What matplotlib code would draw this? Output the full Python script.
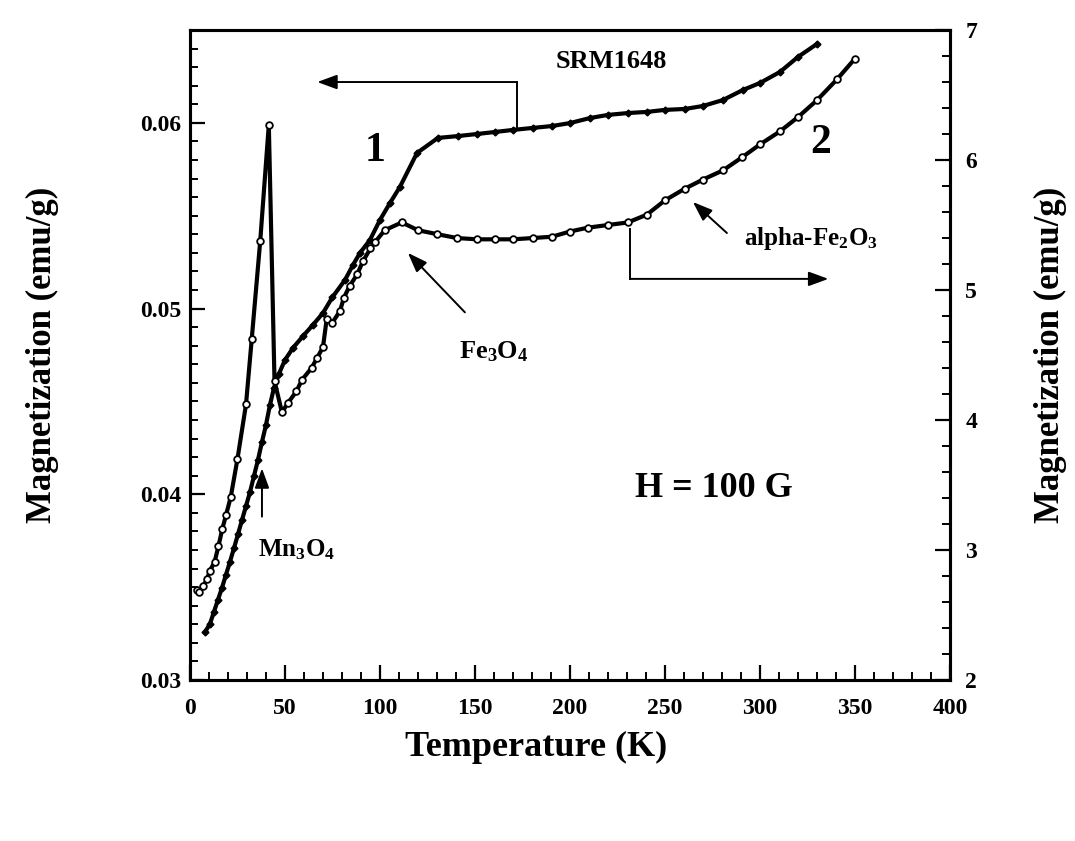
import matplotlib
matplotlib.use("Agg")
import matplotlib.pyplot as plt
from matplotlib.ticker import MultipleLocator

plt.rcParams['font.family'] = ['Liberation Serif', 'DejaVu Serif']
plt.rcParams['font.weight'] = 'bold'
plt.rcParams['mathtext.fontset'] = 'custom'
plt.rcParams['mathtext.rm'] = 'Liberation Serif:bold'
plt.rcParams['mathtext.it'] = 'Liberation Serif:bold'
plt.rcParams['mathtext.bf'] = 'Liberation Serif:bold'

# curve 1 (SRM1648 side, left axis), filled diamonds
temp1 = [7.9, 10.5, 12.6, 14.7, 16.8, 18.9, 21.0, 23.2, 25.3, 27.4, 29.5, 31.6,
         33.7, 35.8, 37.9, 40.0, 42.1, 44.2, 46.8, 50.0, 54.2, 59.5, 64.7, 70.0,
         75.0, 81.6, 85.8, 89.5, 94.7, 100.0, 105.3, 110.5, 119.5, 130.5, 141.0,
         151.0, 160.5, 170.0, 180.5, 190.5, 200.0, 210.5, 220.0, 230.5, 240.5,
         250.0, 260.5, 270.0, 280.5, 291.0, 300.0, 310.5, 320.0, 330.0]
mag1 = [0.03258, 0.03302, 0.03366, 0.03431, 0.03495, 0.03565, 0.03635, 0.03711,
        0.03786, 0.03862, 0.03937, 0.04012, 0.04099, 0.04185, 0.04282, 0.04373,
        0.04481, 0.04572, 0.04648, 0.04723, 0.04788, 0.04852, 0.04912, 0.04976,
        0.05062, 0.05154, 0.05235, 0.05300, 0.05369, 0.05477, 0.05569, 0.05655,
        0.05838, 0.05919, 0.05929, 0.05940, 0.05951, 0.05962, 0.05973, 0.05983,
        0.05999, 0.06026, 0.06043, 0.06053, 0.06059, 0.06070, 0.06075, 0.06091,
        0.06123, 0.06177, 0.06215, 0.06274, 0.06355, 0.06425]

# curve 2 (right axis), open circles
temp2 = [3.5, 5.0, 7.0, 9.0, 10.5, 13.0, 15.0, 17.0, 19.0, 21.5, 25.0, 29.5,
         32.5, 37.0, 41.5, 44.5, 48.4, 51.5, 56.0, 59.0, 64.0, 67.0, 70.0, 72.0,
         75.0, 79.0, 81.0, 84.0, 88.0, 91.0, 95.0, 97.5, 102.5, 111.5, 120.0,
         130.0, 140.5, 151.0, 160.5, 170.0, 180.5, 190.5, 200.0, 209.5, 220.0,
         230.5, 240.5, 250.0, 260.5, 270.0, 280.5, 290.5, 300.0, 310.5, 320.0,
         330.0, 340.5, 350.0]
mag2 = [2.69, 2.68, 2.72, 2.78, 2.84, 2.91, 3.03, 3.16, 3.27, 3.41, 3.70, 4.12,
        4.62, 5.38, 6.27, 4.30, 4.06, 4.13, 4.22, 4.31, 4.40, 4.48, 4.56, 4.78,
        4.75, 4.84, 4.94, 5.03, 5.12, 5.22, 5.32, 5.37, 5.46, 5.52, 5.46, 5.43,
        5.40, 5.39, 5.39, 5.39, 5.40, 5.41, 5.45, 5.48, 5.50, 5.52, 5.58, 5.69,
        5.78, 5.85, 5.92, 6.02, 6.12, 6.22, 6.33, 6.46, 6.62, 6.78]

xticks = [0, 50, 100, 150, 200, 250, 300, 350, 400]
left_ticks = [0.03, 0.04, 0.05, 0.06]
right_ticks = [2, 3, 4, 5, 6, 7]

fig = plt.figure(figsize=(10.75, 8.41), dpi=100)
ax = fig.add_axes([0.1767, 0.1914, 0.707, 0.7729])
ax2 = ax.twinx()

ax.plot(temp1, mag1, color='black', lw=3.0, marker='D', ms=3.5,
        mfc='black', mec='black', zorder=3)
ax2.plot(temp2, mag2, color='black', lw=3.0, marker='o', ms=4.8,
         mfc='white', mec='black', mew=1.3, zorder=3)

ax.set_xlim(0, 400)
ax.set_ylim(0.03, 0.065)
ax2.set_ylim(2, 7)

ax.set_xticks(xticks)
ax.set_yticks(left_ticks)
ax.set_yticklabels(['0.03', '0.04', '0.05', '0.06'])
ax2.set_yticks(right_ticks)
ax.xaxis.set_minor_locator(MultipleLocator(10))
ax.yaxis.set_minor_locator(MultipleLocator(0.001))
ax2.yaxis.set_minor_locator(MultipleLocator(0.2))

for a in (ax, ax2):
    for s in a.spines.values():
        s.set_linewidth(2.2)
ax.tick_params(axis='both', which='major', direction='in', length=11, width=1.6,
               labelsize=17, top=False, right=False)
ax.tick_params(axis='both', which='minor', direction='in', length=6, width=1.4,
               top=False, right=False)
ax.tick_params(axis='x', which='major', pad=13)
ax.tick_params(axis='y', which='major', pad=6)
ax2.tick_params(axis='y', which='major', direction='in', length=11, width=1.6,
                labelsize=17, pad=11)
ax2.tick_params(axis='y', which='minor', direction='in', length=6, width=1.4)

ax.set_xlabel('Temperature (K)', fontsize=26, fontweight='bold')
ax.xaxis.set_label_coords(0.455, -0.078)
ax.set_ylabel('Magnetization (emu/g)', fontsize=25, fontweight='bold')
ax.yaxis.set_label_coords(-0.172, 0.50)
ax2.set_ylabel('Magnetization (emu/g)', fontsize=25, fontweight='bold')
ax2.yaxis.set_label_coords(1.111, 0.50)

# curve numbers and labels
ax.text(97.4, 0.0585, '1', fontsize=30, ha='center', va='center')
ax.text(332, 0.0589, '2', fontsize=30, ha='center', va='center')
ax.text(222, 0.0633, 'SRM1648', fontsize=19, ha='center', va='center')
ax.text(276, 0.0403, 'H = 100 G', fontsize=26, ha='center', va='center')
ax.text(160, 0.0477, r'Fe$_3$O$_4$', fontsize=19, ha='center', va='center')
ax.text(56, 0.0370, r'Mn$_3$O$_4$', fontsize=18, ha='center', va='center')
ax.text(327, 0.0538, r'alpha-Fe$_2$O$_3$', fontsize=18, ha='center', va='center')

arrow = dict(arrowstyle='-|>,head_length=0.6,head_width=0.22', color='black',
             lw=1.4, mutation_scale=20, shrinkA=0, shrinkB=0)

# bracket arrow for curve 1 -> left axis
ax.plot([172, 172], [0.0597, 0.0622], color='black', lw=1.4)
ax.annotate('', xy=(67, 0.0622), xytext=(172, 0.0622), arrowprops=arrow)
# bracket arrow for curve 2 -> right axis
ax.plot([231.6, 231.6], [0.0543, 0.0516], color='black', lw=1.4)
ax.annotate('', xy=(336, 0.0516), xytext=(231.6, 0.0516), arrowprops=arrow)

# phase pointers
ax.annotate('', xy=(114.7, 0.0530), xytext=(144.7, 0.0498), arrowprops=arrow)
ax.annotate('', xy=(37.9, 0.0414), xytext=(37.9, 0.0388), arrowprops=arrow)
ax.annotate('', xy=(264.7, 0.05574), xytext=(282.6, 0.05407), arrowprops=arrow)

fig.savefig('out.png', dpi=100)
